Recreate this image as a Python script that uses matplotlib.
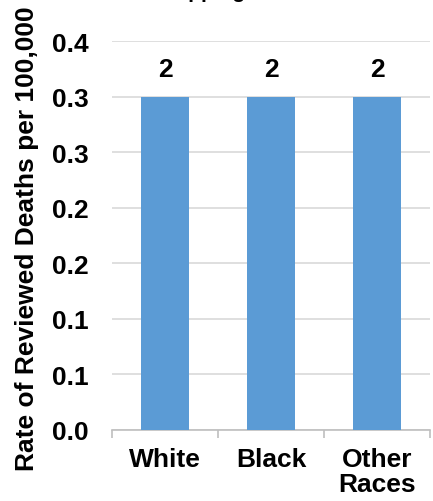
import matplotlib as mpl
mpl.use('Agg')
import matplotlib.pyplot as plt
import numpy as np

# data
categories = ['White', 'Black', 'Other\nRaces']
rates = [0.3, 0.3, 0.3]
counts = ['2', '2', '2']
ytick_vals = [0.0, 0.05, 0.1, 0.15, 0.2, 0.25, 0.3, 0.35]
ytick_labels = ['0.0', '0.1', '0.1', '0.2', '0.2', '0.3', '0.3', '0.4']
title = 'Wrapping'

plt.rcParams['font.family'] = ['Liberation Sans', 'DejaVu Sans']
plt.rcParams['font.weight'] = 'bold'

fig = plt.figure(figsize=(4.33, 5.02), dpi=100)
ax = fig.add_axes([112/433, 1-431/502, 318/433, (431-42)/502])

x = np.arange(len(categories))
ax.bar(x, rates, width=0.46, color='#5B9BD5', zorder=3)
for xi, r, c in zip(x, rates, counts):
    ax.annotate(c, (xi, r), xytext=(0, 11), textcoords='offset points',
                ha='center', va='bottom', fontsize=19, fontweight='bold')

ax.set_xlim(-0.5, len(categories) - 0.5)
ax.set_ylim(0, 0.35)
ax.set_yticks(ytick_vals)
ax.set_yticklabels(ytick_labels, fontsize=19, fontweight='bold')
ax.tick_params(axis='y', length=0, pad=17)
ax.grid(axis='y', color='#D9D9D9', linewidth=1.2, zorder=0)

ax.set_xticks(x)
ax.set_xticklabels(categories, fontsize=19, fontweight='bold', linespacing=1.05)
ax.tick_params(axis='x', which='major', length=0, pad=12)
ax.set_xticks(np.arange(-0.5, len(categories)), minor=True)
ax.tick_params(axis='x', which='minor', length=6, color='#BFBFBF', width=1.2)

for s in ['left', 'top', 'right']:
    ax.spines[s].set_visible(False)
ax.spines['bottom'].set_color('#BFBFBF')
ax.spines['bottom'].set_linewidth(1.2)

fig.text(27/433, 0.525, 'Rate of Reviewed Deaths per 100,000', rotation=90,
         ha='center', va='center', fontsize=19, fontweight='bold')
fig.text(198/433, 1 + 2/502, title, ha='center', va='baseline',
         fontsize=15, fontweight='bold')

fig.savefig('out.png', dpi=100, facecolor='w')
